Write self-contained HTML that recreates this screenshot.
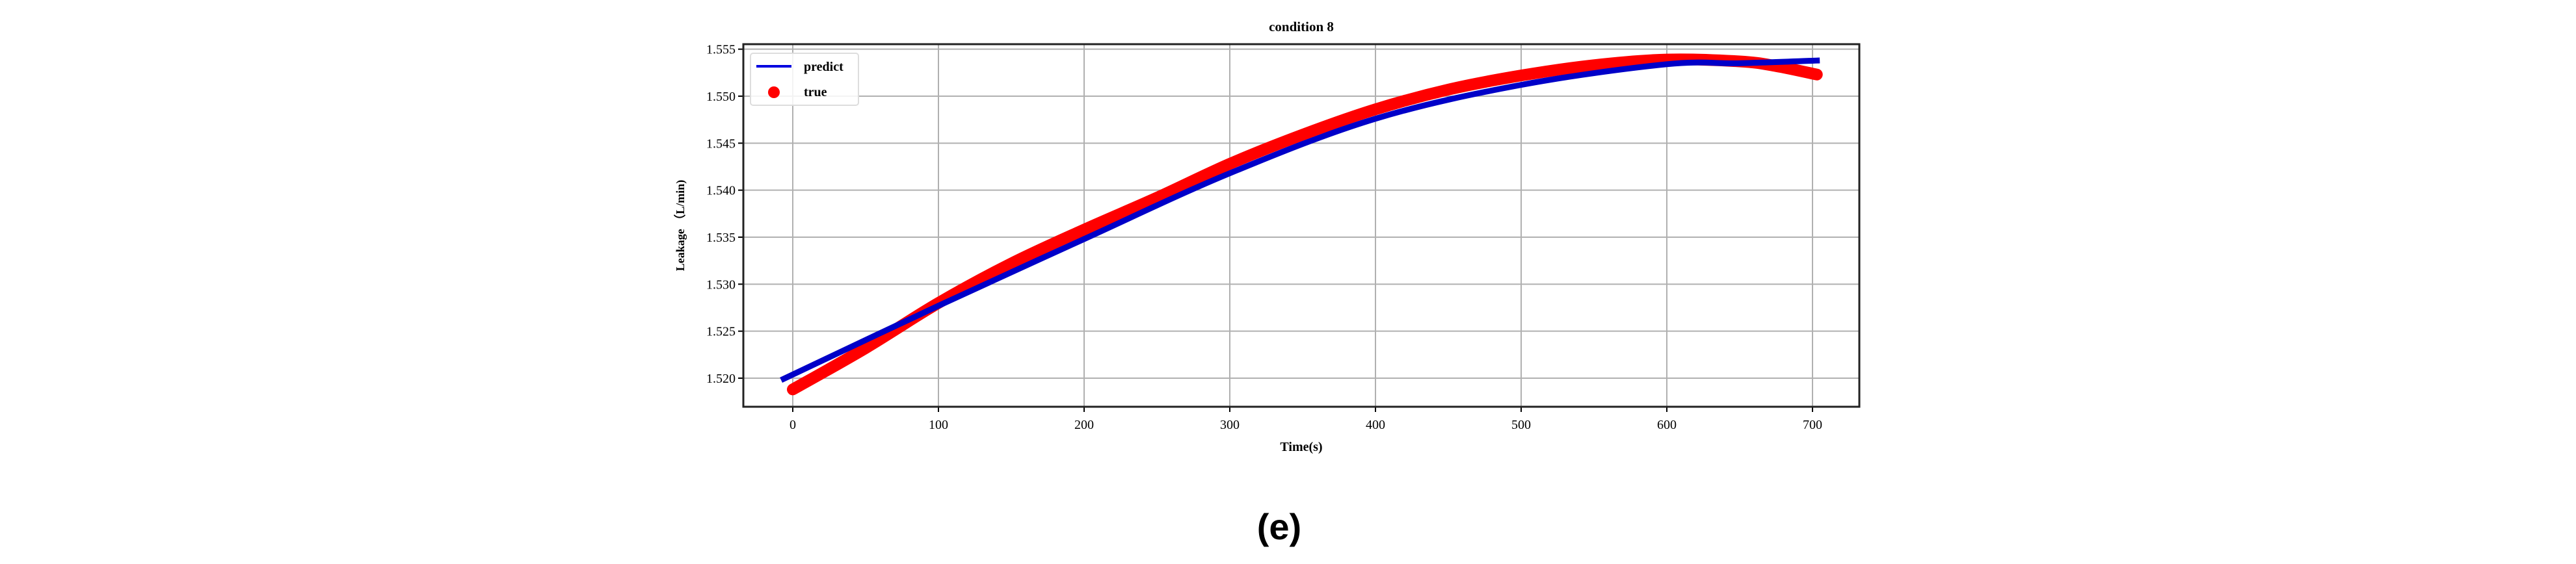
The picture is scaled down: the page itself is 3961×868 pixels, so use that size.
<!DOCTYPE html>
<html><head><meta charset="utf-8"><style>
html,body{margin:0;padding:0;background:#fff;}
svg{display:block;font-family:"Liberation Serif",serif;}
</style></head><body>
<svg id="chart" width="3961" height="868" viewBox="0 0 3961 868"></svg>
<script>
const xTicks=[0,100,200,300,400,500,600,700];
const yTicks=[1.520,1.525,1.530,1.535,1.540,1.545,1.550,1.555];
const predX=[-8,100,200,300,400,500,600,650,705];
const predY=[1.5198,1.5277,1.5348,1.5418,1.5476,1.5512,1.5534,1.5535,1.5538];
const trueX=[0,50,100,150,200,250,300,350,400,450,500,550,600,650,675,703];
const trueY=[1.5188,1.5232,1.5280,1.5322,1.5358,1.5392,1.5428,1.5459,1.5486,1.5507,1.5522,1.5533,1.5539,1.5537,1.5532,1.5523];

const NS='http://www.w3.org/2000/svg';
const svg=document.getElementById('chart');
const L=1143,R=2859,T=68,B=626;
function sx(v){return 1219+v*2.24;}
function sy(v){return 582-(v-1.520)*14466.7;}
function el(tag,attrs,parent){const e=document.createElementNS(NS,tag);for(const k in attrs)e.setAttribute(k,attrs[k]);(parent||svg).appendChild(e);return e;}
function smooth(xs,ys){
  const p=xs.map((x,i)=>[sx(x),sy(ys[i])]);
  let d='M'+p[0][0]+' '+p[0][1];
  for(let i=0;i<p.length-1;i++){
    const p0=p[i-1]||p[i],p1=p[i],p2=p[i+1],p3=p[i+2]||p2;
    const c1=[p1[0]+(p2[0]-p0[0])/6,p1[1]+(p2[1]-p0[1])/6];
    const c2=[p2[0]-(p3[0]-p1[0])/6,p2[1]-(p3[1]-p1[1])/6];
    d+=' C'+c1[0]+' '+c1[1]+' '+c2[0]+' '+c2[1]+' '+p2[0]+' '+p2[1];
  }
  return d;
}

xTicks.forEach(t=>{
  const g=el('line',{x1:sx(t),x2:sx(t),y1:T,y2:B,stroke:'#b0b0b0','stroke-width':2});
  
  
  const tk=el('line',{x1:sx(t),x2:sx(t),y1:B,y2:B+8,stroke:'#000','stroke-width':2});
  
  
  const tx=el('text',{x:sx(t),y:660,'font-size':20,'text-anchor':'middle',fill:'#000'});
  tx.textContent=t;
  
  
});
yTicks.forEach(t=>{
  const g=el('line',{x1:L,x2:R,y1:sy(t),y2:sy(t),stroke:'#b0b0b0','stroke-width':2});
  
  
  const tk=el('line',{x1:L-8,x2:L,y1:sy(t),y2:sy(t),stroke:'#000','stroke-width':2});
  
  
  const tx=el('text',{x:L-12,y:sy(t)+7,'font-size':20,'text-anchor':'end',fill:'#000'});
  tx.textContent=t.toFixed(3);
  
  
});

const tp=el('path',{d:smooth(trueX,trueY),fill:'none',stroke:'#ff0000','stroke-width':18,'stroke-linecap':'round','stroke-linejoin':'round'});


const pp=el('path',{d:smooth(predX,predY),fill:'none',stroke:'#0000c8','stroke-width':9,'stroke-linejoin':'round'});



const fr=el('rect',{x:L,y:T,width:R-L,height:B-T,fill:'none',stroke:'#222','stroke-width':3});



const lg=el('g',{});


el('rect',{x:1154,y:82,width:166,height:80,rx:4,fill:'#fff','fill-opacity':0.85,stroke:'#ddd','stroke-width':2},lg);
el('line',{x1:1163,x2:1217,y1:102,y2:102,stroke:'#0000e0','stroke-width':4},lg);
const t1=el('text',{x:1236,y:109,'font-size':20,'font-weight':'bold'},lg);t1.textContent='predict';
el('circle',{cx:1190,cy:142,r:9,fill:'#ff0000'},lg);
const t2=el('text',{x:1236,y:148,'font-size':20,'font-weight':'bold'},lg);t2.textContent='true';

const ti=el('text',{x:2001,y:48,'font-size':21,'font-weight':'bold','text-anchor':'middle'});
ti.textContent='condition 8';


const xl=el('text',{x:2001,y:694,'font-size':20,'font-weight':'bold','text-anchor':'middle'});
xl.textContent='Time(s)';


const yl=el('text',{x:1052,y:347,'font-size':18,'font-weight':'bold','text-anchor':'middle',transform:'rotate(-90 1052 347)'});
yl.textContent='Leakage （L/min)';


const cap=el('text',{x:1967,y:830,'font-size':56,'font-weight':'bold','text-anchor':'middle','font-family':'"Liberation Sans",sans-serif'});
cap.textContent='(e)';


</script>
</body></html>
